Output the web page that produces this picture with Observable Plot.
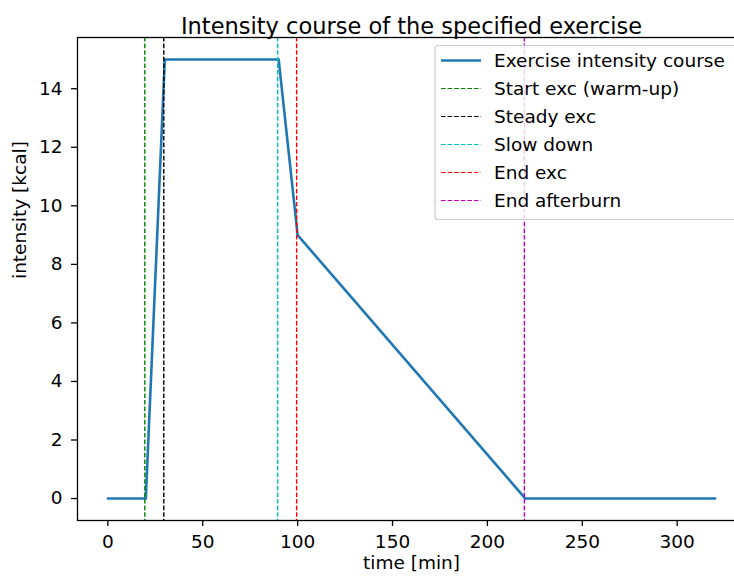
<!DOCTYPE html>
<html>
<head>
<meta charset="utf-8">
<script src="https://cdn.jsdelivr.net/npm/d3@7"></script>
<script src="https://cdn.jsdelivr.net/npm/@observablehq/plot@0.6"></script>
<style>
  html, body { margin: 0; padding: 0; background: white; overflow: hidden; }
  #chart { width: 734px; height: 580px; overflow: hidden; }
  svg { font-family: "DejaVu Sans", sans-serif; }
</style>
</head>
<body>
<div id="chart"></div>
<script>
// Data
const timeMin = [0, 20, 30, 90, 100, 220, 320];
const intensity = [0, 0, 15, 15, 9, 0, 0];
const eventTimes = [20, 30, 90, 100, 220];
const eventLabels = ["Start exc (warm-up)", "Steady exc", "Slow down", "End exc", "End afterburn"];
const eventColors = ["#008000", "#000000", "#00bfbf", "#ff0000", "#bf00bf"];
const lineLabel = "Exercise intensity course";
const xTicks = [0, 50, 100, 150, 200, 250, 300];
const yTicks = [0, 2, 4, 6, 8, 10, 12, 14];
const titleText = "Intensity course of the specified exercise";
const xLabel = "time [min]";
const yLabel = "intensity [kcal]";

const course = timeMin.map((t, i) => ({t, v: intensity[i]}));
const events = eventTimes.map((t, i) => ({t, label: eventLabels[i], color: eventColors[i]}));
const DASH = "4.6,2";
const FS = 18.5;

const W = 734, H = 580;
const chart = Plot.plot({
  width: W,
  height: H,
  marginLeft: 77,
  marginRight: -11,
  marginTop: 37,
  marginBottom: 60,
  style: {fontFamily: "DejaVu Sans, sans-serif", fontSize: FS + "px", color: "black", background: "white", overflow: "visible"},
  x: {domain: [-16, 336]},
  y: {domain: [-0.75, 15.75]},
  marks: [
    Plot.axisX({ticks: xTicks, tickSize: 6, tickPadding: 8, fontSize: FS, label: null, stroke: "black", strokeWidth: 1.3}),
    Plot.axisY({ticks: yTicks, tickSize: 6, tickPadding: 9, fontSize: FS, label: null, stroke: "black", strokeWidth: 1.3}),
    Plot.line(course, {x: "t", y: "v", stroke: "#1f77b4", strokeWidth: 2.6}),
    ...events.map(e => Plot.ruleX([e], {x: "t", stroke: e.color, strokeWidth: 1.4, strokeDasharray: DASH, dx: -1})),
    Plot.frame({stroke: "black", strokeWidth: 1.3}),
    Plot.text([titleText], {text: d => d, frameAnchor: "top", dy: -19, fontSize: 22.5, fill: "black"}),
    Plot.text([xLabel], {text: d => d, frameAnchor: "bottom", dy: 48, fontSize: FS, fill: "black"}),
    Plot.text([yLabel], {text: d => d, frameAnchor: "left", dx: -57, rotate: -90, fontSize: FS, fill: "black"})
  ]
});
document.getElementById("chart").appendChild(chart);

// Legend
const svg = d3.select(chart);
const lg = svg.append("g").attr("font-family", "DejaVu Sans, sans-serif").attr("font-size", FS).attr("text-anchor", "start");
lg.append("rect").attr("x", 435).attr("y", 45.5).attr("width", 305).attr("height", 174)
  .attr("rx", 3).attr("fill", "white").attr("fill-opacity", 0.8).attr("stroke", "#cccccc").attr("stroke-width", 1.2);
const entries = [{label: lineLabel, color: "#1f77b4", dash: null, w: 2.6}]
  .concat(events.map(e => ({label: e.label, color: e.color, dash: DASH, w: 1.2})));
entries.forEach((e, i) => {
  const y = 60.5 + i * 28;
  lg.append("line").attr("x1", 441).attr("x2", 481).attr("y1", y).attr("y2", y)
    .attr("stroke", e.color).attr("stroke-width", e.w).attr("stroke-dasharray", e.dash);
  lg.append("text").attr("x", 494).attr("y", y).attr("dy", "0.35em").attr("fill", "black").attr("text-anchor", "start").text(e.label);
});
</script>
</body>
</html>
